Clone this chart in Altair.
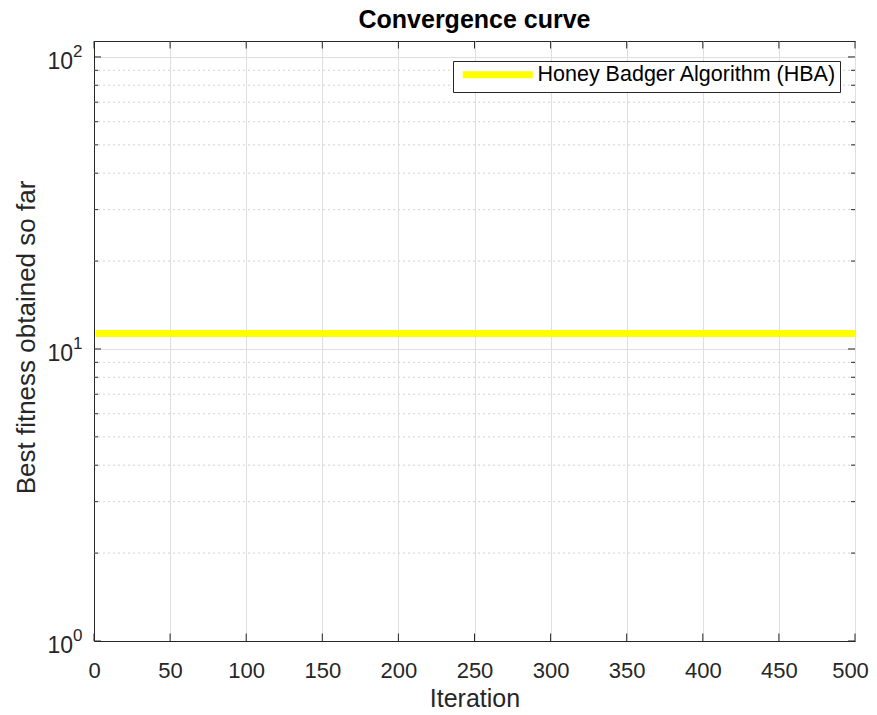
import altair as alt
import pandas as pd

# ---- data ----
iterations = [1, 500]
best_fitness = [11.3, 11.3]
series_name = "Honey Badger Algorithm (HBA)"
x_ticks = [0, 50, 100, 150, 200, 250, 300, 350, 400, 450, 500]
y_major = [1, 10, 100]
y_major_base = ["10", "10", "10"]
y_major_exp = ["0", "1", "2"]
y_minor = [2, 3, 4, 5, 6, 7, 8, 9, 20, 30, 40, 50, 60, 70, 80, 90]
x_domain = [0, 500]
y_domain = [1, 113.4]

W, H = 761, 600
AX = "#262626"
FONT = "Liberation Sans"

line_df = pd.DataFrame({"Iteration": iterations, "Best": best_fitness,
                        "series": [series_name] * len(iterations)})
xt_df = pd.DataFrame({"Iteration": x_ticks})
ymaj_df = pd.DataFrame({"Best": y_major, "base": y_major_base, "exp": y_major_exp})
ymin_df = pd.DataFrame({"Best": y_minor})

xs = alt.Scale(domain=x_domain, nice=False, zero=False)
ys = alt.Scale(type="log", domain=y_domain, nice=False)

# the last label is nudged a few pixels left so it stays inside the page edge
x_axis = alt.Axis(values=x_ticks, grid=True, gridColor="#dfdfdf", gridWidth=1,
                  ticks=False, tickSize=0, domain=True, domainColor=AX, domainWidth=1,
                  labelOffset={"condition": {"test": "datum.value == 500", "value": -5}, "value": 0},
                  labelFont=FONT, labelFontSize=22, labelColor=AX, labelPadding=19,
                  labelFlush=False, labelOverlap=False,
                  titleFont=FONT, titleFontSize=25, titleFontWeight="normal",
                  titleColor=AX, titleBaseline="alphabetic", titleAlign="center",
                  titleX=W / 2, titleY=65)
y_axis = alt.Axis(values=y_major, grid=True, gridColor="#dfdfdf", gridWidth=1,
                  ticks=False, tickSize=0, domain=True, domainColor=AX, domainWidth=1,
                  labels=False,
                  titleFont=FONT, titleFontSize=26, titleFontWeight="normal",
                  titleColor=AX, titleBaseline="alphabetic", titleAlign="center",
                  titleAngle=270, titleX=-60, titleY=H / 2 - 4)

X = alt.X("Iteration:Q", scale=xs, title="Iteration", axis=x_axis)
Y = alt.Y("Best:Q", scale=ys, title="Best fitness obtained so far", axis=y_axis)

minor_grid = alt.Chart(ymin_df).mark_rule(color="#d2d2d2", strokeDash=[2, 3], strokeWidth=1).encode(y=Y)

line = alt.Chart(line_df).mark_line(strokeWidth=7, clip=True).encode(
    x=X, y=Y,
    color=alt.Color("series:N", scale=alt.Scale(domain=[series_name], range=["#ffff00"]),
                    legend=alt.Legend(orient="none", legendX=359, legendY=20, title=None,
                                      strokeColor=AX, fillColor="white", padding=3,
                                      symbolType="M-5,0H5", symbolStrokeWidth=7, symbolSize=196,
                                      symbolOffset=31, labelOffset=29, labelLimit=500,
                                      labelFont=FONT, labelFontSize=21.5, labelColor="#000",
                                      cornerRadius=0))
)

xt_bottom = alt.Chart(xt_df).mark_rule(color=AX).encode(x=X, y=alt.value(H), y2=alt.value(H - 7.5))
xt_top = alt.Chart(xt_df).mark_rule(color=AX).encode(x=X, y=alt.value(0), y2=alt.value(7.5))
ymaj_left = alt.Chart(ymaj_df).mark_rule(color=AX).encode(y=Y, x=alt.value(0), x2=alt.value(7))
ymaj_right = alt.Chart(ymaj_df).mark_rule(color=AX).encode(y=Y, x=alt.value(W), x2=alt.value(W - 7))
ymin_left = alt.Chart(ymin_df).mark_rule(color=AX).encode(y=Y, x=alt.value(0), x2=alt.value(4))
ymin_right = alt.Chart(ymin_df).mark_rule(color=AX).encode(y=Y, x=alt.value(W), x2=alt.value(W - 4))

# log-axis labels: "10" with a raised exponent
ylab_base = alt.Chart(ymaj_df).mark_text(
    font=FONT, fontSize=23, color=AX, align="right", baseline="middle", dy=5
).encode(y=Y, x=alt.value(-21), text="base:N")
ylab_exp = alt.Chart(ymaj_df).mark_text(
    font=FONT, fontSize=17, color=AX, align="left", baseline="middle", dy=-5
).encode(y=Y, x=alt.value(-21), text="exp:N")

chart = alt.layer(
    minor_grid, line, xt_bottom, xt_top, ymaj_left, ymaj_right, ymin_left, ymin_right,
    ylab_base, ylab_exp
).properties(
    width=W, height=H,
    title=alt.TitleParams("Convergence curve", font=FONT, fontSize=25, fontWeight="bold",
                          color="#000", anchor="middle", frame="group", offset=8),
    autosize=alt.AutoSizeParams(type="none"),
    padding={"left": 86, "top": 33, "right": 14, "bottom": 66},
).configure_view(stroke=AX, strokeWidth=1)

chart.save("out.html", embed_options={"renderer": "svg", "actions": False})
